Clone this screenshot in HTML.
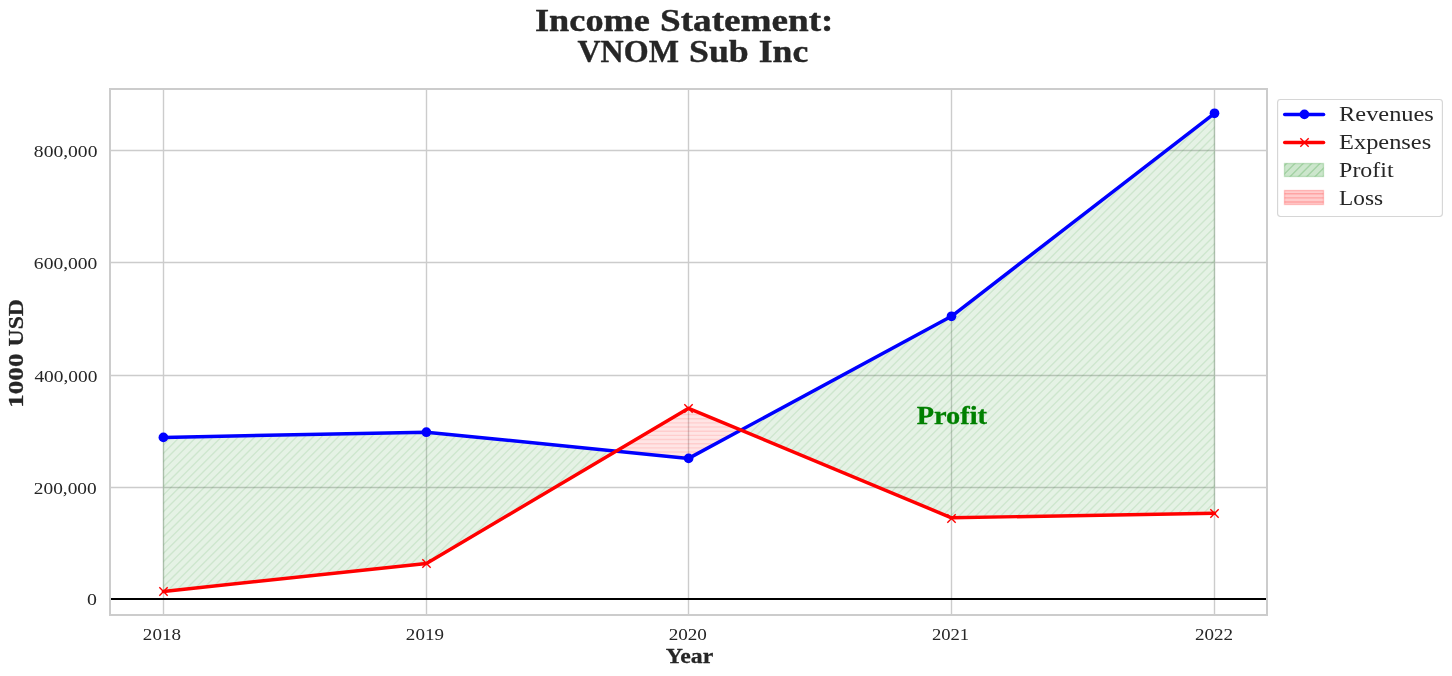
<!DOCTYPE html>
<html lang="en"><head><meta charset="utf-8"><title>Income Statement: VNOM Sub Inc</title>
<style>html,body{margin:0;padding:0;background:#fff;}body{width:1452px;height:676px;overflow:hidden;font-family:"Liberation Serif", serif;}svg{display:block;will-change:transform;}text{font-family:"Liberation Serif", serif;}</style></head><body>
<svg width="1452" height="676" viewBox="0 0 1452 676">
<rect x="0" y="0" width="1452" height="676" fill="#ffffff"/>
<defs>
<clipPath id="cax"><rect x="110" y="89" width="1157" height="526"/></clipPath>
<clipPath id="cp1"><polygon points="163.4,437.4 426.4,432.2 616.18,451.16 426.4,563.5 163.4,591.4"/></clipPath>
<clipPath id="cp2"><polygon points="740.95,430.1 951.5,316.3 1214.5,113.3 1214.5,513.2 951.5,517.8"/></clipPath>
<clipPath id="cl"><polygon points="616.18,451.16 688.6,408.3 740.95,430.1 688.6,458.4"/></clipPath>
<clipPath id="clg"><rect x="1284.5" y="163.5" width="39" height="13"/></clipPath>
<clipPath id="clr"><rect x="1284.5" y="190.5" width="39" height="14"/></clipPath>
</defs>
<g stroke="#cccccc" stroke-width="1.39" fill="none">
<line x1="163.5" y1="89" x2="163.5" y2="615"/>
<line x1="426.5" y1="89" x2="426.5" y2="615"/>
<line x1="688.5" y1="89" x2="688.5" y2="615"/>
<line x1="951.5" y1="89" x2="951.5" y2="615"/>
<line x1="1214.5" y1="89" x2="1214.5" y2="615"/>
<line x1="110" y1="150.5" x2="1267" y2="150.5"/>
<line x1="110" y1="262.5" x2="1267" y2="262.5"/>
<line x1="110" y1="375.5" x2="1267" y2="375.5"/>
<line x1="110" y1="487.5" x2="1267" y2="487.5"/>
</g>
<g clip-path="url(#cax)">
<polygon points="163.4,437.4 426.4,432.2 616.18,451.16 426.4,563.5 163.4,591.4" fill="rgba(0,128,0,0.1)" stroke="rgba(0,128,0,0.1)" stroke-width="1.39" stroke-linejoin="miter"/>
<path clip-path="url(#cp1)" d="M-10.02 593.4L153.18 430.2M-1.69 593.4L161.51 430.2M6.65 593.4L169.85 430.2M14.98 593.4L178.18 430.2M23.31 593.4L186.51 430.2M31.65 593.4L194.85 430.2M39.98 593.4L203.18 430.2M48.31 593.4L211.51 430.2M56.65 593.4L219.85 430.2M64.98 593.4L228.18 430.2M73.31 593.4L236.51 430.2M81.65 593.4L244.85 430.2M89.98 593.4L253.18 430.2M98.31 593.4L261.51 430.2M106.65 593.4L269.85 430.2M114.98 593.4L278.18 430.2M123.31 593.4L286.51 430.2M131.65 593.4L294.85 430.2M139.98 593.4L303.18 430.2M148.31 593.4L311.51 430.2M156.65 593.4L319.85 430.2M164.98 593.4L328.18 430.2M173.31 593.4L336.51 430.2M181.65 593.4L344.85 430.2M189.98 593.4L353.18 430.2M198.31 593.4L361.51 430.2M206.65 593.4L369.85 430.2M214.98 593.4L378.18 430.2M223.31 593.4L386.51 430.2M231.65 593.4L394.85 430.2M239.98 593.4L403.18 430.2M248.31 593.4L411.51 430.2M256.65 593.4L419.85 430.2M264.98 593.4L428.18 430.2M273.31 593.4L436.51 430.2M281.65 593.4L444.85 430.2M289.98 593.4L453.18 430.2M298.31 593.4L461.51 430.2M306.65 593.4L469.85 430.2M314.98 593.4L478.18 430.2M323.31 593.4L486.51 430.2M331.65 593.4L494.85 430.2M339.98 593.4L503.18 430.2M348.31 593.4L511.51 430.2M356.65 593.4L519.85 430.2M364.98 593.4L528.18 430.2M373.31 593.4L536.51 430.2M381.65 593.4L544.85 430.2M389.98 593.4L553.18 430.2M398.31 593.4L561.51 430.2M406.65 593.4L569.85 430.2M414.98 593.4L578.18 430.2M423.31 593.4L586.51 430.2M431.65 593.4L594.85 430.2M439.98 593.4L603.18 430.2M448.31 593.4L611.51 430.2M456.65 593.4L619.85 430.2M464.98 593.4L628.18 430.2M473.31 593.4L636.51 430.2M481.65 593.4L644.85 430.2M489.98 593.4L653.18 430.2M498.31 593.4L661.51 430.2M506.65 593.4L669.85 430.2M514.98 593.4L678.18 430.2M523.31 593.4L686.51 430.2M531.65 593.4L694.85 430.2M539.98 593.4L703.18 430.2M548.31 593.4L711.51 430.2M556.65 593.4L719.85 430.2M564.98 593.4L728.18 430.2M573.31 593.4L736.51 430.2M581.65 593.4L744.85 430.2M589.98 593.4L753.18 430.2M598.31 593.4L761.51 430.2M606.65 593.4L769.85 430.2M614.98 593.4L778.18 430.2M623.31 593.4L786.51 430.2" stroke="rgba(0,128,0,0.1)" stroke-width="1.39" fill="none"/>
<polygon points="740.95,430.1 951.5,316.3 1214.5,113.3 1214.5,513.2 951.5,517.8" fill="rgba(0,128,0,0.1)" stroke="rgba(0,128,0,0.1)" stroke-width="1.39" stroke-linejoin="miter"/>
<path clip-path="url(#cp2)" d="M321.91 519.8L730.41 111.3M330.25 519.8L738.75 111.3M338.58 519.8L747.08 111.3M346.91 519.8L755.41 111.3M355.25 519.8L763.75 111.3M363.58 519.8L772.08 111.3M371.91 519.8L780.41 111.3M380.25 519.8L788.75 111.3M388.58 519.8L797.08 111.3M396.91 519.8L805.41 111.3M405.25 519.8L813.75 111.3M413.58 519.8L822.08 111.3M421.91 519.8L830.41 111.3M430.25 519.8L838.75 111.3M438.58 519.8L847.08 111.3M446.91 519.8L855.41 111.3M455.25 519.8L863.75 111.3M463.58 519.8L872.08 111.3M471.91 519.8L880.41 111.3M480.25 519.8L888.75 111.3M488.58 519.8L897.08 111.3M496.91 519.8L905.41 111.3M505.25 519.8L913.75 111.3M513.58 519.8L922.08 111.3M521.91 519.8L930.41 111.3M530.25 519.8L938.75 111.3M538.58 519.8L947.08 111.3M546.91 519.8L955.41 111.3M555.25 519.8L963.75 111.3M563.58 519.8L972.08 111.3M571.91 519.8L980.41 111.3M580.25 519.8L988.75 111.3M588.58 519.8L997.08 111.3M596.91 519.8L1005.41 111.3M605.25 519.8L1013.75 111.3M613.58 519.8L1022.08 111.3M621.91 519.8L1030.41 111.3M630.25 519.8L1038.75 111.3M638.58 519.8L1047.08 111.3M646.91 519.8L1055.41 111.3M655.25 519.8L1063.75 111.3M663.58 519.8L1072.08 111.3M671.91 519.8L1080.41 111.3M680.25 519.8L1088.75 111.3M688.58 519.8L1097.08 111.3M696.91 519.8L1105.41 111.3M705.25 519.8L1113.75 111.3M713.58 519.8L1122.08 111.3M721.91 519.8L1130.41 111.3M730.25 519.8L1138.75 111.3M738.58 519.8L1147.08 111.3M746.91 519.8L1155.41 111.3M755.25 519.8L1163.75 111.3M763.58 519.8L1172.08 111.3M771.91 519.8L1180.41 111.3M780.25 519.8L1188.75 111.3M788.58 519.8L1197.08 111.3M796.91 519.8L1205.41 111.3M805.25 519.8L1213.75 111.3M813.58 519.8L1222.08 111.3M821.91 519.8L1230.41 111.3M830.25 519.8L1238.75 111.3M838.58 519.8L1247.08 111.3M846.91 519.8L1255.41 111.3M855.25 519.8L1263.75 111.3M863.58 519.8L1272.08 111.3M871.91 519.8L1280.41 111.3M880.25 519.8L1288.75 111.3M888.58 519.8L1297.08 111.3M896.91 519.8L1305.41 111.3M905.25 519.8L1313.75 111.3M913.58 519.8L1322.08 111.3M921.91 519.8L1330.41 111.3M930.25 519.8L1338.75 111.3M938.58 519.8L1347.08 111.3M946.91 519.8L1355.41 111.3M955.25 519.8L1363.75 111.3M963.58 519.8L1372.08 111.3M971.91 519.8L1380.41 111.3M980.25 519.8L1388.75 111.3M988.58 519.8L1397.08 111.3M996.91 519.8L1405.41 111.3M1005.25 519.8L1413.75 111.3M1013.58 519.8L1422.08 111.3M1021.91 519.8L1430.41 111.3M1030.25 519.8L1438.75 111.3M1038.58 519.8L1447.08 111.3M1046.91 519.8L1455.41 111.3M1055.25 519.8L1463.75 111.3M1063.58 519.8L1472.08 111.3M1071.91 519.8L1480.41 111.3M1080.25 519.8L1488.75 111.3M1088.58 519.8L1497.08 111.3M1096.91 519.8L1505.41 111.3M1105.25 519.8L1513.75 111.3M1113.58 519.8L1522.08 111.3M1121.91 519.8L1530.41 111.3M1130.25 519.8L1538.75 111.3M1138.58 519.8L1547.08 111.3M1146.91 519.8L1555.41 111.3M1155.25 519.8L1563.75 111.3M1163.58 519.8L1572.08 111.3M1171.91 519.8L1580.41 111.3M1180.25 519.8L1588.75 111.3M1188.58 519.8L1597.08 111.3M1196.91 519.8L1605.41 111.3M1205.25 519.8L1613.75 111.3M1213.58 519.8L1622.08 111.3M1221.91 519.8L1630.41 111.3" stroke="rgba(0,128,0,0.1)" stroke-width="1.39" fill="none"/>
<polygon points="616.18,451.16 688.6,408.3 740.95,430.1 688.6,458.4" fill="rgba(255,0,0,0.1)" stroke="rgba(255,0,0,0.1)" stroke-width="1.39"/>
<path clip-path="url(#cl)" d="M614.18 402.05H742.95M614.18 406.22H742.95M614.18 410.38H742.95M614.18 414.55H742.95M614.18 418.72H742.95M614.18 422.88H742.95M614.18 427.05H742.95M614.18 431.22H742.95M614.18 435.38H742.95M614.18 439.55H742.95M614.18 443.72H742.95M614.18 447.88H742.95M614.18 452.05H742.95M614.18 456.22H742.95M614.18 460.38H742.95M614.18 464.55H742.95" stroke="rgba(255,0,0,0.1)" stroke-width="1.39" fill="none"/>
<line x1="110" y1="599" x2="1267" y2="599" stroke="#000" stroke-width="2.08"/>
<polyline points="163.4,437.4 426.4,432.2 688.6,458.4 951.5,316.3 1214.5,113.3" fill="none" stroke="#0000ff" stroke-width="3.47" stroke-linejoin="round" stroke-linecap="round"/>
<circle cx="163.4" cy="437.4" r="4.85" fill="#0000ff"/>
<circle cx="426.4" cy="432.2" r="4.85" fill="#0000ff"/>
<circle cx="688.6" cy="458.4" r="4.85" fill="#0000ff"/>
<circle cx="951.5" cy="316.3" r="4.85" fill="#0000ff"/>
<circle cx="1214.5" cy="113.3" r="4.85" fill="#0000ff"/>
<polyline points="163.4,591.4 426.4,563.5 688.6,408.3 951.5,517.8 1214.5,513.2" fill="none" stroke="#ff0000" stroke-width="3.47" stroke-linejoin="round" stroke-linecap="round"/>
<path d="M159.33 587.33L167.67 595.67M159.33 595.67L167.67 587.33" stroke="#ff0000" stroke-width="1.39" fill="none" stroke-linecap="butt"/>
<path d="M422.33 559.33L430.67 567.67M422.33 567.67L430.67 559.33" stroke="#ff0000" stroke-width="1.39" fill="none" stroke-linecap="butt"/>
<path d="M684.33 404.33L692.67 412.67M684.33 412.67L692.67 404.33" stroke="#ff0000" stroke-width="1.39" fill="none" stroke-linecap="butt"/>
<path d="M947.33 514.33L955.67 522.67M947.33 522.67L955.67 514.33" stroke="#ff0000" stroke-width="1.39" fill="none" stroke-linecap="butt"/>
<path d="M1210.33 509.33L1218.67 517.67M1210.33 517.67L1218.67 509.33" stroke="#ff0000" stroke-width="1.39" fill="none" stroke-linecap="butt"/>
</g>
<rect x="110" y="89" width="1157" height="526" fill="none" stroke="#cccccc" stroke-width="2"/>
<text x="535" y="30.7" font-size="30.6" font-weight="bold" fill="#262626" stroke="#262626" stroke-width="0.37" stroke-linejoin="round" text-anchor="start" textLength="114.91" lengthAdjust="spacingAndGlyphs">Income</text>
<text x="660.03" y="30.7" font-size="30.6" font-weight="bold" fill="#262626" stroke="#262626" stroke-width="0.37" stroke-linejoin="round" text-anchor="start" textLength="173.47" lengthAdjust="spacingAndGlyphs">Statement:</text>
<text x="577.45" y="61.8" font-size="30.6" font-weight="bold" fill="#262626" stroke="#262626" stroke-width="0.37" stroke-linejoin="round" text-anchor="start" textLength="101.45" lengthAdjust="spacingAndGlyphs">VNOM</text>
<text x="689.09" y="61.8" font-size="30.6" font-weight="bold" fill="#262626" stroke="#262626" stroke-width="0.37" stroke-linejoin="round" text-anchor="start" textLength="59.65" lengthAdjust="spacingAndGlyphs">Sub</text>
<text x="758.68" y="61.8" font-size="30.6" font-weight="bold" fill="#262626" stroke="#262626" stroke-width="0.37" stroke-linejoin="round" text-anchor="start" textLength="49.54" lengthAdjust="spacingAndGlyphs">Inc</text>
<g transform="translate(23.1,407.93) rotate(-90)">
<text x="0" y="0" font-size="21.4" font-weight="bold" fill="#262626" stroke="#262626" stroke-width="0.26" stroke-linejoin="round" text-anchor="start" textLength="54.6" lengthAdjust="spacingAndGlyphs">1000</text>
</g>
<g transform="translate(23.1,346.47) rotate(-90)">
<text x="0" y="0" font-size="21.4" font-weight="bold" fill="#262626" stroke="#262626" stroke-width="0.26" stroke-linejoin="round" text-anchor="start" textLength="47.45" lengthAdjust="spacingAndGlyphs">USD</text>
</g>
<text x="665.75" y="663.1" font-size="21.4" font-weight="bold" fill="#262626" stroke="#262626" stroke-width="0.26" stroke-linejoin="round" text-anchor="start" textLength="47.54" lengthAdjust="spacingAndGlyphs">Year</text>
<text x="33.89" y="156.9" font-size="16.6" font-weight="normal" fill="#262626" stroke="#262626" stroke-width="0" stroke-linejoin="round" text-anchor="start" textLength="63.55" lengthAdjust="spacingAndGlyphs">800,000</text>
<text x="33.89" y="268.9" font-size="16.6" font-weight="normal" fill="#262626" stroke="#262626" stroke-width="0" stroke-linejoin="round" text-anchor="start" textLength="63.5" lengthAdjust="spacingAndGlyphs">600,000</text>
<text x="34.4" y="381.9" font-size="16.6" font-weight="normal" fill="#262626" stroke="#262626" stroke-width="0" stroke-linejoin="round" text-anchor="start" textLength="63.04" lengthAdjust="spacingAndGlyphs">400,000</text>
<text x="33.89" y="493.9" font-size="16.6" font-weight="normal" fill="#262626" stroke="#262626" stroke-width="0" stroke-linejoin="round" text-anchor="start" textLength="62.84" lengthAdjust="spacingAndGlyphs">200,000</text>
<text x="87.1" y="605" font-size="16.6" font-weight="normal" fill="#262626" stroke="#262626" stroke-width="0" stroke-linejoin="round" text-anchor="start" textLength="9.91" lengthAdjust="spacingAndGlyphs">0</text>
<text x="142.88" y="640" font-size="16.6" font-weight="normal" fill="#262626" stroke="#262626" stroke-width="0" stroke-linejoin="round" text-anchor="start" textLength="38.08" lengthAdjust="spacingAndGlyphs">2018</text>
<text x="405.88" y="640" font-size="16.6" font-weight="normal" fill="#262626" stroke="#262626" stroke-width="0" stroke-linejoin="round" text-anchor="start" textLength="38.07" lengthAdjust="spacingAndGlyphs">2019</text>
<text x="668.68" y="640" font-size="16.6" font-weight="normal" fill="#262626" stroke="#262626" stroke-width="0" stroke-linejoin="round" text-anchor="start" textLength="38.23" lengthAdjust="spacingAndGlyphs">2020</text>
<text x="931.92" y="640" font-size="16.6" font-weight="normal" fill="#262626" stroke="#262626" stroke-width="0" stroke-linejoin="round" text-anchor="start" textLength="37.27" lengthAdjust="spacingAndGlyphs">2021</text>
<text x="1194.91" y="640" font-size="16.6" font-weight="normal" fill="#262626" stroke="#262626" stroke-width="0" stroke-linejoin="round" text-anchor="start" textLength="38.16" lengthAdjust="spacingAndGlyphs">2022</text>
<text x="916.7" y="423.8" font-size="24.2" font-weight="bold" fill="#008000" stroke="#008000" stroke-width="0.29" stroke-linejoin="round" text-anchor="start" textLength="70.39" lengthAdjust="spacingAndGlyphs">Profit</text>
<rect x="1277.6" y="99.45" width="164.8" height="117" rx="2.9" ry="2.9" fill="rgba(255,255,255,0.8)" stroke="rgba(204,204,204,0.8)" stroke-width="1.15"/>
<line x1="1284.7" y1="114.4" x2="1323.6" y2="114.4" stroke="#0000ff" stroke-width="3.47" stroke-linecap="round"/>
<circle cx="1304.4" cy="114.4" r="4.85" fill="#0000ff"/>
<line x1="1284.7" y1="142.5" x2="1323.6" y2="142.5" stroke="#ff0000" stroke-width="3.47" stroke-linecap="round"/>
<path d="M1300.33 138.33L1308.67 146.67M1300.33 146.67L1308.67 138.33" stroke="#ff0000" stroke-width="1.39" fill="none" stroke-linecap="butt"/>
<rect x="1284.5" y="163.5" width="39" height="13" fill="rgba(0,128,0,0.2)" stroke="rgba(0,128,0,0.2)" stroke-width="1.39"/>
<path clip-path="url(#clg)" d="M1254.88 178.5L1271.88 161.5M1263.21 178.5L1280.21 161.5M1271.55 178.5L1288.55 161.5M1279.88 178.5L1296.88 161.5M1288.21 178.5L1305.21 161.5M1296.55 178.5L1313.55 161.5M1304.88 178.5L1321.88 161.5M1313.21 178.5L1330.21 161.5M1321.55 178.5L1338.55 161.5M1329.88 178.5L1346.88 161.5" stroke="rgba(0,128,0,0.2)" stroke-width="1.39" fill="none"/>
<rect x="1284.5" y="190.5" width="39" height="14" fill="rgba(255,0,0,0.2)" stroke="rgba(255,0,0,0.2)" stroke-width="1.39"/>
<path clip-path="url(#clr)" d="M1282.5 185.38H1325.5M1282.5 189.55H1325.5M1282.5 193.72H1325.5M1282.5 197.88H1325.5M1282.5 202.05H1325.5M1282.5 206.22H1325.5M1282.5 210.38H1325.5" stroke="rgba(255,0,0,0.2)" stroke-width="1.39" fill="none"/>
<text x="1339.1" y="121.1" font-size="21.4" font-weight="normal" fill="#262626" stroke="#262626" stroke-width="0" stroke-linejoin="round" text-anchor="start" textLength="94.76" lengthAdjust="spacingAndGlyphs">Revenues</text>
<text x="1339.1" y="148.9" font-size="21.4" font-weight="normal" fill="#262626" stroke="#262626" stroke-width="0" stroke-linejoin="round" text-anchor="start" textLength="92.06" lengthAdjust="spacingAndGlyphs">Expenses</text>
<text x="1339.1" y="177" font-size="21.4" font-weight="normal" fill="#262626" stroke="#262626" stroke-width="0" stroke-linejoin="round" text-anchor="start" textLength="54.52" lengthAdjust="spacingAndGlyphs">Profit</text>
<text x="1339.09" y="204.8" font-size="21.4" font-weight="normal" fill="#262626" stroke="#262626" stroke-width="0" stroke-linejoin="round" text-anchor="start" textLength="43.98" lengthAdjust="spacingAndGlyphs">Loss</text>
</svg></body></html>
